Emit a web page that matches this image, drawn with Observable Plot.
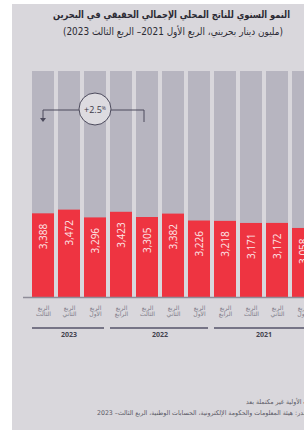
<!DOCTYPE html>
<html><head><meta charset="utf-8">
<script src="https://cdn.jsdelivr.net/npm/d3@7"></script>
<script src="https://cdn.jsdelivr.net/npm/@observablehq/plot@0.6"></script>
<style>
html,body{margin:0;padding:0;background:#fff;width:304px;height:430px;overflow:hidden;position:relative;}
#bg{position:absolute;left:12px;top:4px;width:400px;height:440px;background:#d9d7dc;}
#chart{position:absolute;left:0;top:0;width:330px;}
#chart svg{max-width:none !important;}
.t{position:absolute;direction:rtl;font-family:"DejaVu Sans",sans-serif;color:#2b2a33;white-space:nowrap;transform-origin:0 0;}
.n{position:absolute;direction:rtl;font-family:"DejaVu Sans",sans-serif;color:#5b5a66;font-size:6.5px;white-space:nowrap;transform-origin:0 0;}
</style></head><body>
<div id="bg"></div>
<span id="title" class="t" style="top:9px;font-weight:bold;font-size:10px;"></span>
<span id="subtitle" class="t" style="top:26px;font-size:10px;"></span>
<div id="chart"></div>
<span id="note1" class="n" style="top:398px;"></span>
<span id="note2" class="n" style="top:409px;"></span>
<script>
const titleText = "النمو السنوي للناتج المحلي الإجمالي الحقيقي في البحرين";
const subtitleText = "(مليون دينار بحريني، الربع الأول 2021– الربع الثالث 2023)";
const noteText1 = "البيانات الأولية غير مكتملة بعد";
const noteText2 = "المصدر: هيئة المعلومات والحكومة الإلكترونية، الحسابات الوطنية، الربع الثالث– 2023";

const keys = ["2023Q3","2023Q2","2023Q1","2022Q4","2022Q3","2022Q2","2022Q1","2021Q4","2021Q3","2021Q2","2021Q1"];
const quarterLabels = ["الربع\nالثالث","الربع\nالثاني","الربع\nالأول","الربع\nالرابع","الربع\nالثالث","الربع\nالثاني","الربع\nالأول","الربع\nالرابع","الربع\nالثالث","الربع\nالثاني","الربع\nالأول"];
const years = ["2023","2023","2023","2022","2022","2022","2022","2021","2021","2021","2021"];
const values = [3388,3472,3296,3423,3305,3382,3226,3218,3171,3172,3058];
const yearLabels = ["2023","2022","2021"];
const growthFrom = "2022Q3", growthTo = "2023Q3";
const yDomain = [1500, 6600];

function place(id, text, x0, targetW, k) {
  const el = document.getElementById(id);
  el.textContent = text;
  const w = el.getBoundingClientRect().width;
  const s = k || targetW / w;
  el.style.left = (targetW ? x0 : x0 - w * s) + "px";
  el.style.transform = `scaleX(${s})`;
  return s;
}
place("title", titleText, 53, 237);
place("subtitle", subtitleText, 63, 220);
const kNote = place("note2", noteText2, 97, 219);
place("note1", noteText1, 322, 0, kNote);

const data = keys.map((k, i) => ({key: k, label: quarterLabels[i], year: years[i], value: values[i]}));

function yearGroups(index, scales, vals, dim) {
  const x = scales.x, bw = x.bandwidth();
  const base = dim.height - dim.marginBottom;
  const g = d3.create("svg:g");
  for (const yr of yearLabels) {
    const xs = data.filter(d => d.year === yr).map(d => x(d.key));
    const x0 = d3.min(xs), x1 = d3.max(xs) + bw;
    g.append("line").attr("x1", x0).attr("x2", x1 - 2).attr("y1", base + 31).attr("y2", base + 31)
      .attr("stroke", "#55536a").attr("stroke-width", 1.3);
    g.append("text").attr("x", (x0 + x1) / 2).attr("y", base + 37.5).attr("dy", "0.35em")
      .attr("text-anchor", "middle").attr("font-size", 7).attr("font-weight", "bold")
      .attr("fill", "#44434f").attr("font-family", "Open Sans, sans-serif").text(yr);
  }
  return g.node();
}

function growthNote(index, scales, vals, dim) {
  const x = scales.x, bw = x.bandwidth();
  const xa = x(growthTo) + bw / 2, xb = x(growthFrom) + bw / 2;
  const vA = values[keys.indexOf(growthTo)], vB = values[keys.indexOf(growthFrom)];
  const g = (vA / vB - 1) * 100;
  const yT = dim.marginTop + 39;
  const grp = d3.create("svg:g");
  grp.append("path").attr("d", `M${xa},${yT + 8}V${yT}H${xb - 3}V${yT + 12}`)
    .attr("fill", "none").attr("stroke", "#4c4a5c").attr("stroke-width", 1);
  grp.append("path").attr("d", `M${xa - 3},${yT + 8}L${xa + 3},${yT + 8}L${xa},${yT + 12}Z`).attr("fill", "#4c4a5c");
  const cx = (xa + xb) / 2;
  grp.append("circle").attr("cx", cx).attr("cy", yT - 1).attr("r", 16)
    .attr("fill", "#dddbe0").attr("stroke", "#4c4a5c").attr("stroke-width", 1);
  const t = grp.append("text").attr("x", cx).attr("y", yT - 1).attr("dy", "0.35em")
    .attr("text-anchor", "middle").attr("font-family", "Open Sans, sans-serif").attr("fill", "#3b3a48");
  t.append("tspan").attr("font-size", 9).text((g >= 0 ? "+" : "") + d3.format(".1f")(g));
  t.append("tspan").attr("font-size", 5).attr("dy", "-3").text("%");
  return grp.node();
}

const chart = Plot.plot({
  width: 330, height: 345,
  marginLeft: 24.3, marginRight: 8.3, marginTop: 71, marginBottom: 48,
  style: {background: "transparent", fontFamily: "Open Sans, sans-serif", overflow: "visible", maxWidth: "none"},
  x: {type: "band", domain: keys, padding: 0.139, axis: null},
  y: {domain: yDomain, axis: null},
  marks: [
    Plot.cell(data, {x: "key", fill: "#b7b5c0", inset: 0}),
    Plot.barY(data, {x: "key", y1: () => yDomain[0], y2: "value", fill: "#ee3441", inset: 0}),
    Plot.text(data, {x: "key", y: "value", text: d => d3.format(",")(d.value), rotate: -90, textAnchor: "end",
      lineAnchor: "middle", dy: 10, fill: "#fde6e8", fontSize: 10}),
    Plot.ruleY([yDomain[0]], {stroke: "#8f8d99", strokeWidth: 1.5, insetLeft: -1.3}),
    Plot.text(data, {x: "key", text: "label", frameAnchor: "bottom", dy: 18, lineHeight: 1,
      fontSize: 6, fill: "#7d7b88", fontFamily: "DejaVu Sans, sans-serif"}),
    yearGroups,
    growthNote
  ]
});
chart.style.maxWidth = "none";
document.getElementById("chart").appendChild(chart);
</script>
</body></html>
